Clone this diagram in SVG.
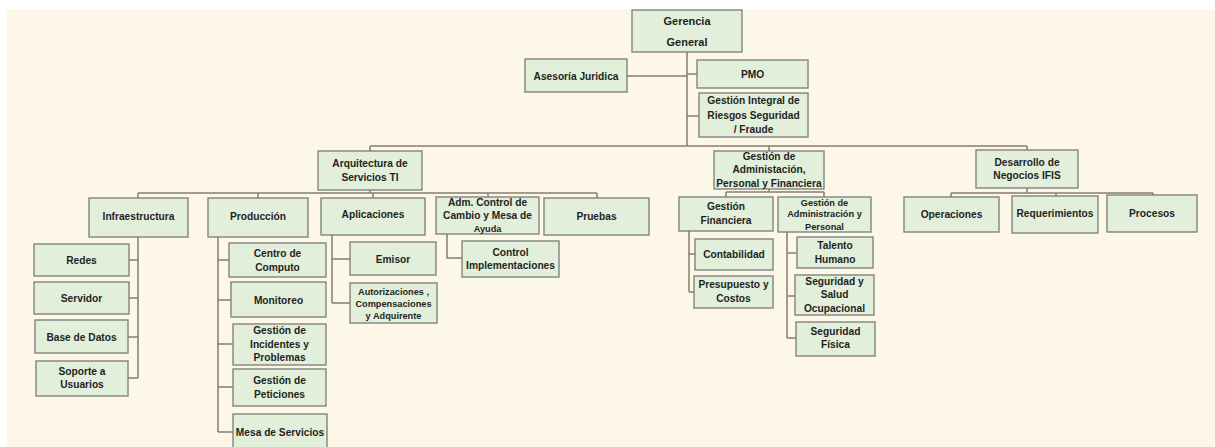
<svg xmlns="http://www.w3.org/2000/svg" width="1215" height="447" viewBox="0 0 1215 447">
<style>
.bg{fill:#fff}
.cream{fill:#fdf7e7}
.b{fill:#e2efda;stroke:#7a7a7a;stroke-width:1.3}
.t{font-family:"Liberation Sans",Arial,sans-serif;font-weight:bold;font-size:10.2px;fill:#1f1f1f;text-anchor:middle}
.s{font-size:9.2px}
.g{font-size:11px}
.c{fill:none;stroke:#857f72;stroke-width:1.5}
</style>
<rect class="bg" x="0" y="0" width="1215" height="447"/>
<rect class="cream" x="7" y="9" width="1208" height="438"/>
<g id="connectors">
<path class="c" d="M687,52V146M627,76H687M687,74H697M687,116H699"/>
<path class="c" d="M370,146H1027M370,146V151M769,146V151M1027,146V150"/>
<path class="c" d="M370,190V193M138,193H597M138,193V198M258,193V198M373,193V198M488,193V197M597,193V198"/>
<path class="c" d="M447,234V258H462"/>
<path class="c" d="M769,189V192M726,192H824M726,192V197M824,192V197"/>
<path class="c" d="M1027,188V193M951,193H1153M951,193V197M1056,193V196M1153,193V195"/>
<path class="c" d="M138,237V378M138,260H129M138,298H129M138,337H128M138,378H128"/>
<path class="c" d="M218,237V432M218,260H229M218,300H231M218,344H233M218,387H233M218,432H233"/>
<path class="c" d="M332,235V303M332,259H350M332,303H350"/>
<path class="c" d="M689,231V292M689,254H695M689,292H694"/>
<path class="c" d="M787,232V338M787,253H797M787,296H795M787,338H796"/>
</g>
<g id="gerencia"><rect class="b" x="632" y="10" width="110" height="42"/><text class="t g" x="687" y="25">Gerencia</text><text class="t g" x="687" y="46">General</text></g>
<g id="asesoria"><rect class="b" x="525" y="59" width="102" height="33"/><text class="t" x="576" y="79.5">Asesoría Juridica</text></g>
<g id="pmo"><rect class="b" x="697" y="60" width="111" height="28"/><text class="t" x="752.5" y="78">PMO</text></g>
<g id="riesgos"><rect class="b" x="699" y="93" width="109" height="44"/><text class="t" x="753.5" y="104">Gestión Integral de</text><text class="t" x="753.5" y="119">Riesgos  Seguridad</text><text class="t" x="753.5" y="133">/ Fraude</text></g>
<g id="arquitectura"><rect class="b" x="318" y="151" width="104" height="39"/><text class="t" x="370" y="167">Arquitectura de</text><text class="t" x="370" y="181">Servicios TI</text></g>
<g id="gestion-adm"><rect class="b" x="714" y="151" width="110" height="38"/><text class="t" x="769" y="160">Gestión de</text><text class="t" x="769" y="173">Administación,</text><text class="t" x="769" y="187">Personal y Financiera</text></g>
<g id="desarrollo"><rect class="b" x="976" y="150" width="102" height="38"/><text class="t" x="1027" y="166">Desarrollo de</text><text class="t" x="1027" y="179">Negocios IFIS</text></g>
<g id="infraestructura"><rect class="b" x="89" y="198" width="99" height="39"/><text class="t" x="138.5" y="220">Infraestructura</text></g>
<g id="produccion"><rect class="b" x="208" y="198" width="100" height="39"/><text class="t" x="258" y="220">Producción</text></g>
<g id="aplicaciones"><rect class="b" x="321" y="198" width="104" height="37"/><text class="t" x="373" y="218">Aplicaciones</text></g>
<g id="adm-control"><rect class="b" x="436" y="197" width="103" height="37"/><text class="t" x="487.5" y="206">Adm. Control de</text><text class="t" x="487.5" y="219">Cambio y  Mesa de</text><text class="t s" x="487.5" y="232">Ayuda</text></g>
<g id="pruebas"><rect class="b" x="544" y="198" width="105" height="37"/><text class="t" x="596.5" y="220">Pruebas</text></g>
<g id="control-impl"><rect class="b" x="462" y="241" width="97" height="36"/><text class="t" x="510.5" y="256">Control</text><text class="t" x="510.5" y="269">Implementaciones</text></g>
<g id="gestion-fin"><rect class="b" x="679" y="197" width="94" height="34"/><text class="t" x="726" y="210">Gestión</text><text class="t" x="726" y="224">Financiera</text></g>
<g id="gestion-adm-personal"><rect class="b" x="778" y="197" width="93" height="35"/><text class="t s" x="824.5" y="205.5">Gestión de</text><text class="t s" x="824.5" y="216.5">Administración   y</text><text class="t s" x="824.5" y="229.5">Personal</text></g>
<g id="operaciones"><rect class="b" x="904" y="197" width="95" height="35"/><text class="t" x="951.5" y="218">Operaciones</text></g>
<g id="requerimientos"><rect class="b" x="1012" y="196" width="86" height="37"/><text class="t" x="1055" y="217">Requerimientos</text></g>
<g id="procesos"><rect class="b" x="1107" y="195" width="90" height="37"/><text class="t" x="1152" y="217">Procesos</text></g>
<g id="redes"><rect class="b" x="34" y="244" width="95" height="32"/><text class="t" x="81.5" y="264">Redes</text></g>
<g id="servidor"><rect class="b" x="34" y="282" width="95" height="32"/><text class="t" x="81.5" y="302">Servidor</text></g>
<g id="base-datos"><rect class="b" x="35" y="320" width="93" height="33"/><text class="t" x="81.5" y="341">Base de Datos</text></g>
<g id="soporte"><rect class="b" x="36" y="361" width="92" height="35"/><text class="t" x="82" y="375">Soporte a</text><text class="t" x="82" y="388">Usuarios</text></g>
<g id="centro-computo"><rect class="b" x="229" y="243" width="97" height="34"/><text class="t" x="277.5" y="257">Centro de</text><text class="t" x="277.5" y="271">Computo</text></g>
<g id="monitoreo"><rect class="b" x="231" y="282" width="95" height="35"/><text class="t" x="278.5" y="304">Monitoreo</text></g>
<g id="incidentes"><rect class="b" x="233" y="324" width="93" height="41"/><text class="t" x="279.5" y="334">Gestión de</text><text class="t" x="279.5" y="348">Incidentes y</text><text class="t" x="279.5" y="361">Problemas</text></g>
<g id="peticiones"><rect class="b" x="233" y="369" width="93" height="37"/><text class="t" x="279.5" y="384">Gestión de</text><text class="t" x="279.5" y="398">Peticiones</text></g>
<g id="mesa-servicios"><rect class="b" x="233" y="414" width="94" height="40"/><text class="t" x="280" y="436">Mesa de Servicios</text></g>
<g id="emisor"><rect class="b" x="350" y="242" width="86" height="33"/><text class="t" x="393" y="263">Emisor</text></g>
<g id="autorizaciones"><rect class="b" x="350" y="283" width="87" height="40"/><text class="t s" x="393.5" y="294.5">Autorizaciones  ,</text><text class="t s" x="393.5" y="306.5">Compensaciones</text><text class="t s" x="393.5" y="318.5">y Adquirente</text></g>
<g id="contabilidad"><rect class="b" x="695" y="239" width="78" height="31"/><text class="t" x="734" y="258">Contabilidad</text></g>
<g id="presupuesto"><rect class="b" x="694" y="276" width="79" height="32"/><text class="t" x="733.5" y="288">Presupuesto y</text><text class="t" x="733.5" y="302">Costos</text></g>
<g id="talento"><rect class="b" x="797" y="237" width="76" height="31"/><text class="t" x="835" y="249">Talento</text><text class="t" x="835" y="263">Humano</text></g>
<g id="seguridad-salud"><rect class="b" x="795" y="275" width="79" height="40"/><text class="t" x="834.5" y="285">Seguridad y</text><text class="t" x="834.5" y="298">Salud</text><text class="t" x="834.5" y="312">Ocupacional</text></g>
<g id="seguridad-fisica"><rect class="b" x="796" y="322" width="79" height="34"/><text class="t" x="835.5" y="335">Seguridad</text><text class="t" x="835.5" y="348">Física</text></g>
</svg>
